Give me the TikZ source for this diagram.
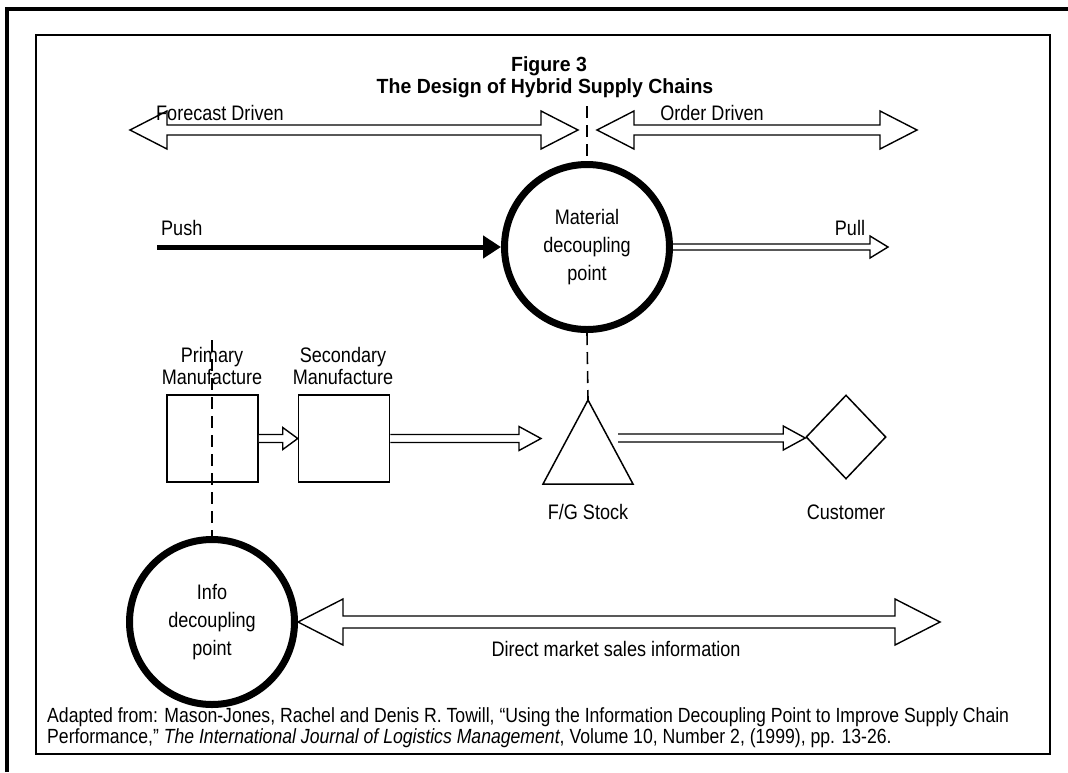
\documentclass[tikz,border=0pt]{standalone}
\usepackage{fontspec}
\setmainfont{Liberation Sans}[FakeStretch=0.86]
\newfontfamily\titlefont{Liberation Sans}[FakeStretch=0.95]
\usetikzlibrary{calc,arrows.meta,shapes.geometric}

% horizontal open-tailed block arrow: from, to, shaft half width, head half width, head length
\newcommand{\hollowarrow}[5]{%
  \path[hollow] let \p1=(#1), \p2=(#2) in
    (\x1,\y1+#3) -- (\x2-#5,\y1+#3) -- (\x2-#5,\y1+#4) -- (\x2,\y1)
    -- (\x2-#5,\y1-#4) -- (\x2-#5,\y1-#3) -- (\x1,\y1-#3);}
% horizontal block arrow with heads at both ends
\newcommand{\twowayarrow}[5]{%
  \path[hollow] let \p1=(#1), \p2=(#2) in
    (\x1,\y1) -- (\x1+#5,\y1+#4) -- (\x1+#5,\y1+#3) -- (\x2-#5,\y1+#3)
    -- (\x2-#5,\y1+#4) -- (\x2,\y1) -- (\x2-#5,\y1-#4) -- (\x2-#5,\y1-#3)
    -- (\x1+#5,\y1-#3) -- (\x1+#5,\y1-#4) -- cycle;}

\tikzset{
  txt/.style={font=\fontsize{21}{22}\selectfont, align=center, inner sep=0pt},
  ringnode/.style={circle, draw=black, line width=7pt, minimum size=165pt,
    inner sep=0pt, align=center, font=\fontsize{21}{28}\selectfont},
  stagebox/.style={draw, line width=1.5pt, minimum width=91pt, minimum height=87pt, inner sep=0pt},
  sepline/.style={line width=1.6pt, dash pattern=on 12pt off 7pt},
  hollow/.style={draw=black, line width=1.4pt, fill=white, line join=miter},
  pushline/.style={line width=5pt, -{Triangle[length=18pt,width=22pt]}},
  titletext/.style={font=\titlefont\bfseries\fontsize{20.5}{22}\selectfont, inner sep=0pt},
}

\begin{document}
\begin{tikzpicture}[x=1pt,y=-1pt]
\useasboundingbox (0,0) rectangle (1068,772);

% page frame and figure box
\draw[line width=4pt] (7,772) -- (7,9) -- (1068,9);
\draw[line width=2pt] (36,35) rectangle (1050,754);

% title
\node[titletext] (fig) at (549,66) {Figure 3};
\node[titletext] (title) at (545,88) {The Design of Hybrid Supply Chains};

% forecast / order driven ranges
\coordinate (fcL) at (130,130);
\coordinate (fcR) at (578,130);
\coordinate (odL) at (597,130);
\coordinate (odR) at (917,130);
\twowayarrow{fcL}{fcR}{5pt}{19pt}{37pt}
\twowayarrow{odL}{odR}{5pt}{19pt}{37pt}
\node[txt, anchor=west] (fclabel) at (156,113) {Forecast Driven};
\node[txt] (odlabel) at (712,113) {Order Driven};

% material decoupling point
\node[ringnode] (mat) at (587,247) {Material\\decoupling\\point};
\coordinate (sepTop) at (587,106);
\draw[sepline] (sepTop) -- (mat.north);

% push and pull
\coordinate (pushL) at (157,247);
\draw[pushline] (pushL) -- (mat.west);
\node[txt, anchor=west] (pushlabel) at (161,228) {Push};
\coordinate (pullR) at (888,247);
\hollowarrow{mat.east}{pullR}{3pt}{11pt}{18pt}
\node[txt] (pulllabel) at (850,228) {Pull};

% physical flow
\node[txt] (primlabel) at (212,366) {Primary\\Manufacture};
\node[txt] (seclabel) at (343,366) {Secondary\\Manufacture};
\node[stagebox] (prim) at (212.5,438.5) {};
\node[stagebox] (sec) at (344,438.5) {};
\coordinate (triTop) at (588,400);
\coordinate (triL) at (543,484);
\coordinate (triR) at (633,484);
\draw[line width=1.5pt, line join=miter] (triTop) -- (triR) -- (triL) -- cycle;
\coordinate (triIn) at (541,438);
\coordinate (triOut) at (618,438);
\node[diamond, draw, line width=1.5pt, minimum width=80pt, minimum height=84pt, inner sep=0pt] (cust) at (846,437) {};
\hollowarrow{prim.east}{sec.west}{4pt}{11pt}{15pt}
\hollowarrow{sec.east}{triIn}{4pt}{12pt}{22pt}
\hollowarrow{triOut}{cust.west}{4pt}{12pt}{22pt}
\node[txt] (fglabel) at (588,512) {F/G Stock};
\node[txt] (custlabel) at (846,512) {Customer};
\draw[sepline] (mat.south) -- (triTop);

% information decoupling point
\node[ringnode] (info) at (212,622) {Info\\decoupling\\point};
\coordinate (primTop) at (212,340);
\draw[sepline] (primTop) -- (info.north);
\coordinate (dmR) at (940,622);
\twowayarrow{info.east}{dmR}{6pt}{23pt}{45pt}
\node[txt] (dmlabel) at (616,649) {Direct market sales information};

% source
\node[anchor=north west, align=left, inner sep=0pt, font=\fontsize{20.5}{21}\selectfont] (source) at (47,707)
  {Adapted from: Mason-Jones, Rachel and Denis R. Towill, “Using the Information Decoupling Point to Improve Supply Chain\\
   Performance,” \textit{The International Journal of Logistics Management}, Volume 10, Number 2, (1999), pp. 13-26.};
\end{tikzpicture}
\end{document}
